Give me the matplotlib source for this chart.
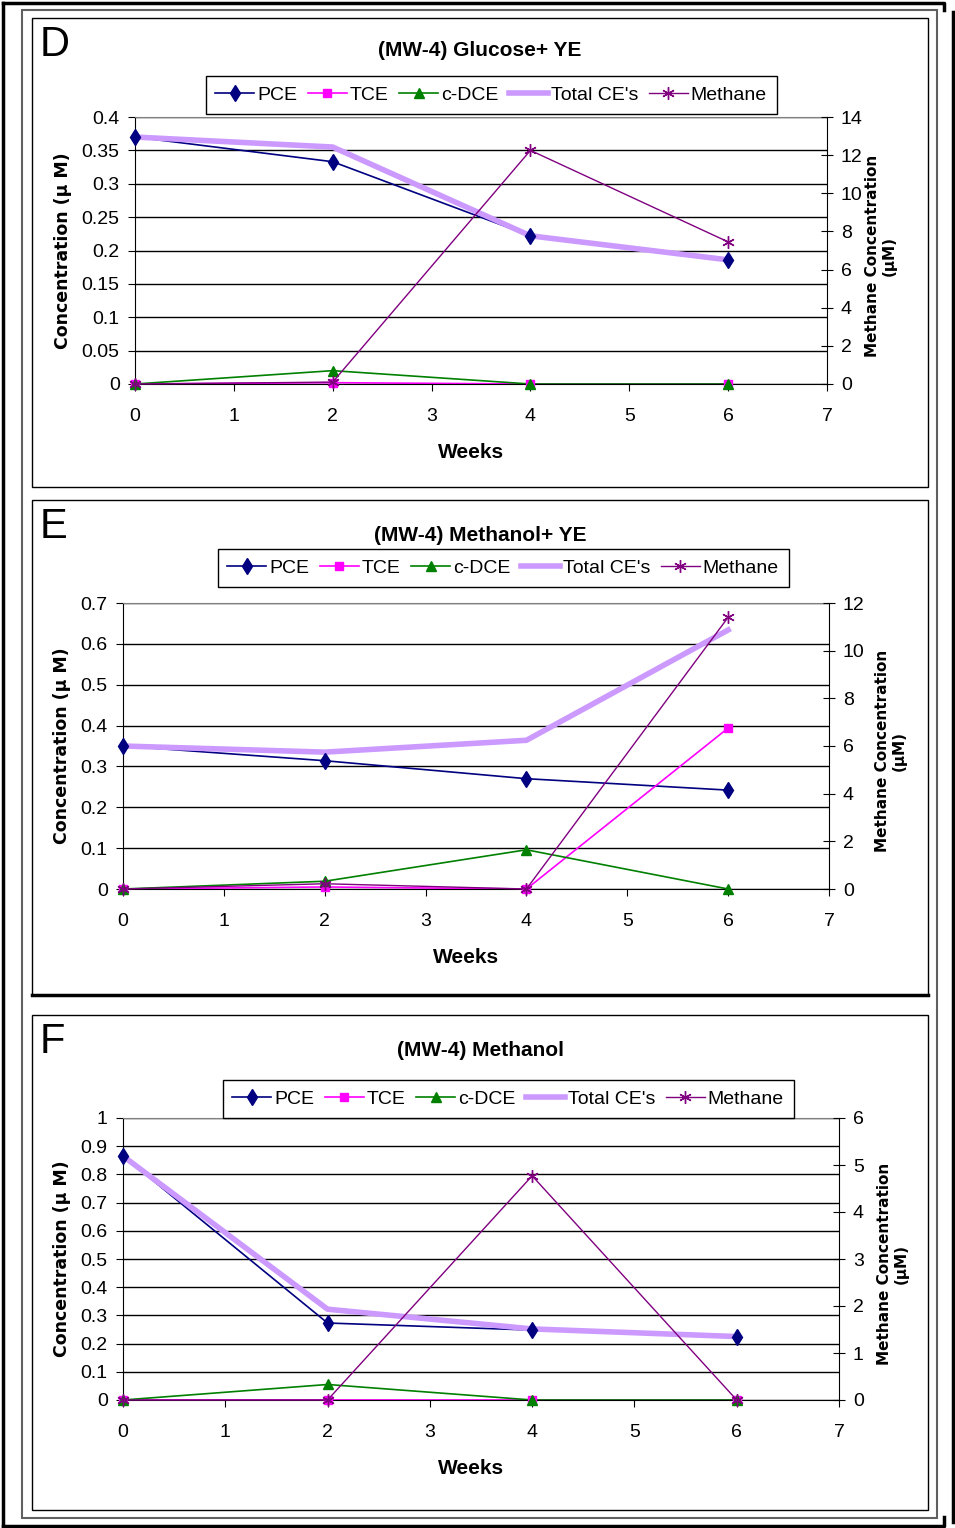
import matplotlib
matplotlib.use("Agg")
import matplotlib.pyplot as plt
from matplotlib import font_manager
from matplotlib.lines import Line2D
from matplotlib.patches import Rectangle

# fonts
names = {f.name for f in font_manager.fontManager.ttflist}
NARROW = 'Liberation Sans Narrow' if 'Liberation Sans Narrow' in names else 'Liberation Sans'
WIDE = 'DejaVu Sans'
plt.rcParams['font.family'] = [NARROW, 'DejaVu Sans']

W, H = 955, 1528

weeks = [0, 2, 4, 6]

# panel D  (MW-4) Glucose+ YE
d_pce = [0.370, 0.333, 0.222, 0.186]
d_tce = [0.0, 0.002, 0.0, 0.0]
d_dce = [0.0, 0.020, 0.0, 0.0]
d_total = [0.370, 0.355, 0.222, 0.186]
d_methane = [0.0, 0.1, 12.25, 7.45]
d_yticks = [0, 0.05, 0.1, 0.15, 0.2, 0.25, 0.3, 0.35, 0.4]
d_rticks = [0, 2, 4, 6, 8, 10, 12, 14]

# panel E  (MW-4) Methanol+ YE
e_pce = [0.350, 0.314, 0.270, 0.242]
e_tce = [0.0, 0.005, 0.0, 0.394]
e_dce = [0.0, 0.019, 0.096, 0.0]
e_total = [0.350, 0.335, 0.364, 0.634]
e_methane = [0.0, 0.22, 0.0, 11.4]
e_yticks = [0, 0.1, 0.2, 0.3, 0.4, 0.5, 0.6, 0.7]
e_rticks = [0, 2, 4, 6, 8, 10, 12]

# panel F  (MW-4) Methanol
f_pce = [0.865, 0.273, 0.248, 0.223]
f_tce = [0.0, 0.0, 0.0, 0.0]
f_dce = [0.0, 0.055, 0.0, 0.0]
f_total = [0.865, 0.322, 0.252, 0.225]
f_methane = [0.0, 0.0, 4.77, 0.0]
f_yticks = [0, 0.1, 0.2, 0.3, 0.4, 0.5, 0.6, 0.7, 0.8, 0.9, 1]
f_rticks = [0, 1, 2, 3, 4, 5, 6]

xticks = [0, 1, 2, 3, 4, 5, 6, 7]

# series styles
C_PCE, C_TCE, C_DCE, C_TOT, C_MET = '#000080', '#FF00FF', '#008000', '#CC99FF', '#800080'
MK_MET = (6, 2, 0)


def fx(px):
    return px / W


def fy(py):
    return 1 - py / H


fig = plt.figure(figsize=(W / 100, H / 100), dpi=100)


def fline(xs, ys, **kw):
    fig.add_artist(Line2D([fx(x) for x in xs], [fy(y) for y in ys],
                          transform=fig.transFigure, **kw))

# outer frames
fline([3, 944, 944], [3, 3, 10], color='black', lw=2.5)
fline([3, 3], [3, 1526], color='black', lw=2.5)
fline([3, 944, 944], [1526, 1526, 1517], color='black', lw=2.5)
fline([953, 953], [12, 1522], color='black', lw=2.5)
fig.add_artist(Rectangle((fx(22), fy(1518)), fx(937) - fx(22), fy(10) - fy(1518),
                         transform=fig.transFigure, fill=False, ec='#606060', lw=1.5))

legend_handles = [
    Line2D([], [], color=C_PCE, lw=1.2, marker='d', ms=8),
    Line2D([], [], color=C_TCE, lw=1.2, marker='s', ms=6),
    Line2D([], [], color=C_DCE, lw=1.2, marker='^', ms=7),
    Line2D([], [], color=C_TOT, lw=4),
    Line2D([], [], color=C_MET, lw=1, marker=MK_MET, ms=9),
]
legend_labels = ['PCE', 'TCE', 'c-DCE', "Total CE's", 'Methane']


def panel(box, plot, letter, title, title_y, leg_xy, label_x, rlabel_x,
          pce, tce, dce, total, methane, yticks, rticks, thick_bottom=False):
    bx0, by0, bx1, by1 = box
    fig.add_artist(Rectangle((fx(bx0), fy(by1)), fx(bx1) - fx(bx0), fy(by0) - fy(by1),
                             transform=fig.transFigure, fill=False, ec='black', lw=1))
    if thick_bottom:
        fline([bx0, bx1], [by1, by1], color='black', lw=2.5)

    px0, py0, px1, py1 = plot
    ax = fig.add_axes([fx(px0), fy(py1), fx(px1) - fx(px0), fy(py0) - fy(py1)])
    ax.plot(weeks, pce, color=C_PCE, lw=1.2, zorder=2, clip_on=False)
    ax.plot(weeks, tce, color=C_TCE, lw=1.2, zorder=2, clip_on=False)
    ax.plot(weeks, dce, color=C_DCE, lw=1.2, zorder=2, clip_on=False)
    ax.plot(weeks, total, color=C_TOT, lw=4, zorder=2.2, clip_on=False)
    # markers on top of the thick total line
    ax.plot(weeks, pce, ls='none', color=C_PCE, marker='d', ms=8, zorder=3, clip_on=False)
    ax.plot(weeks, tce, ls='none', color=C_TCE, marker='s', ms=6, zorder=3, clip_on=False)
    ax.plot(weeks, dce, ls='none', color=C_DCE, marker='^', ms=7, zorder=3, clip_on=False)
    ax.set_xlim(0, 7)
    ax.set_ylim(yticks[0], yticks[-1])
    ax.set_xticks(xticks)
    ax.set_xticklabels([str(t) for t in xticks])
    ax.set_yticks(yticks)
    ax.set_yticklabels(['%g' % t for t in yticks])
    ax.yaxis.grid(True, color='black', lw=1)
    ax.tick_params(axis='x', direction='out', length=5, pad=12, labelsize=14)
    ax.tick_params(axis='y', direction='out', length=5, pad=6, labelsize=14)
    for s in ['left', 'bottom']:
        ax.spines[s].set_color('black')
    ax.spines['top'].set_color('#808080')
    ax.spines['right'].set_visible(False)

    ax2 = ax.twinx()
    ax2.plot(weeks, methane, color=C_MET, lw=1, marker=MK_MET, ms=9, mew=1, clip_on=False)
    ax2.set_ylim(rticks[0], rticks[-1])
    ax2.set_yticks(rticks)
    ax2.set_yticklabels([str(t) for t in rticks])
    ax2.tick_params(axis='y', direction='inout', length=8, pad=6, labelsize=14)
    for s in ['left', 'bottom', 'top']:
        ax2.spines[s].set_visible(False)
    ax2.spines['right'].set_color('black')

    cy = (py0 + py1) / 2
    fig.text(fx(label_x), fy(cy), 'Concentration (µ M)', rotation=90, ha='center',
             va='center', fontsize=12.5, fontweight='bold', family=WIDE)
    fig.text(fx(rlabel_x), fy(cy + 5), 'Methane Concentration\n(µM)', rotation=90,
             ha='center', va='center', fontsize=11, fontweight='bold', family=WIDE,
             linespacing=1.1)
    fig.text(fx((px0 + px1) / 2 - 10), fy(py1 + 68), 'Weeks', ha='center', va='center',
             fontsize=15, fontweight='bold')
    fig.text(fx(40), fy(box[1] + 27), letter, ha='left', va='center', fontsize=30)
    fig.text(fx(480), fy(title_y), title, ha='center', va='center', fontsize=15,
             fontweight='bold')

    leg = fig.legend(legend_handles, legend_labels, loc='center',
                     bbox_to_anchor=(fx(leg_xy[0]), fy(leg_xy[1])), ncol=5,
                     fontsize=14, numpoints=1, handlelength=2.0, handletextpad=0.15,
                     columnspacing=0.55, borderpad=0.5, fancybox=False,
                     edgecolor='black', framealpha=1)
    leg.get_frame().set_linewidth(1)
    return ax


panel((32, 18, 928, 487), (135, 117, 827, 384), 'D', '(MW-4) Glucose+ YE', 51,
      (491, 95), 63, 881, d_pce, d_tce, d_dce, d_total, d_methane, d_yticks, d_rticks)
panel((32, 500, 928, 995), (123, 603, 829, 889), 'E', '(MW-4) Methanol+ YE', 535,
      (503, 568), 62, 891, e_pce, e_tce, e_dce, e_total, e_methane, e_yticks, e_rticks,
      thick_bottom=True)
panel((32, 1015, 928, 1510), (123, 1118, 839, 1400), 'F', '(MW-4) Methanol', 1050,
      (508, 1099), 62, 893, f_pce, f_tce, f_dce, f_total, f_methane, f_yticks, f_rticks)

fig.savefig('out.png', dpi=100)
